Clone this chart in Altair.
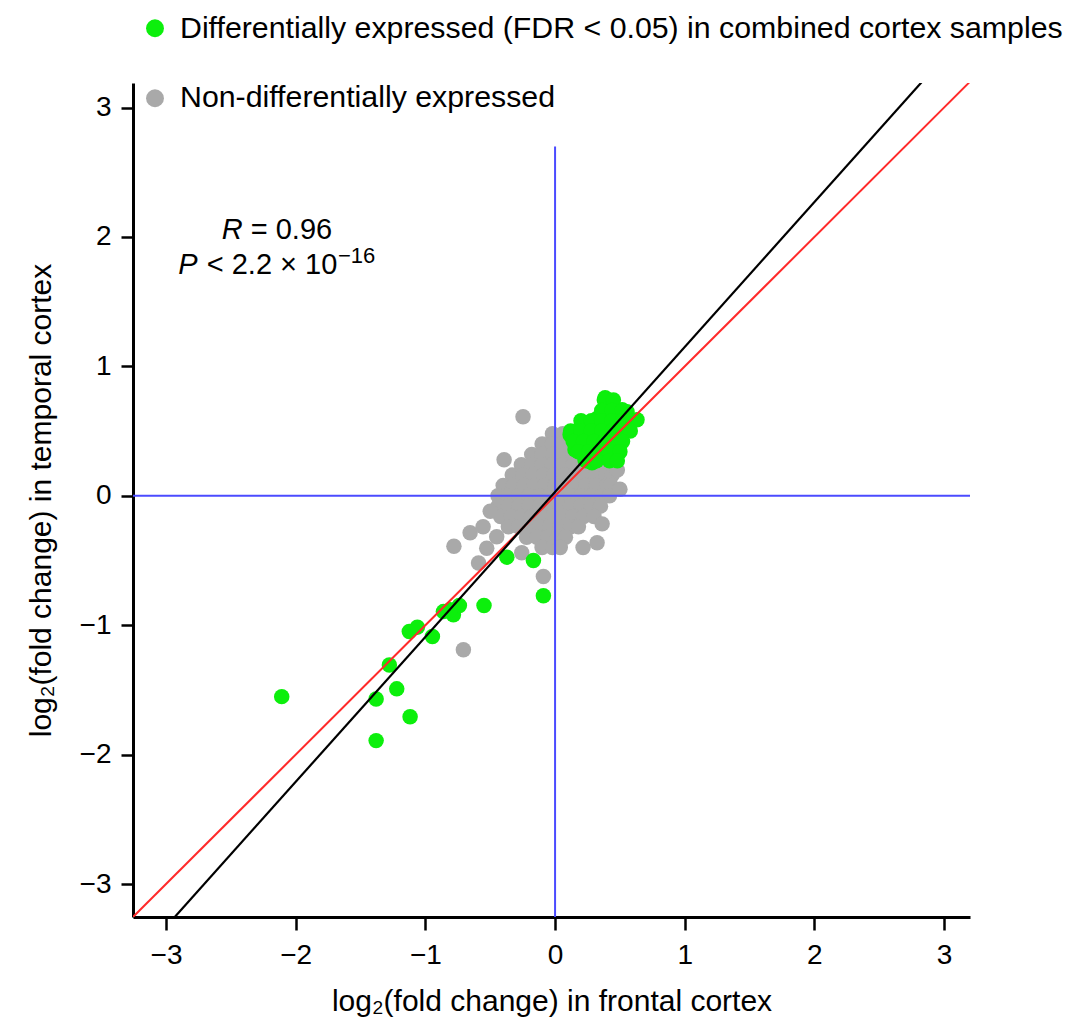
import altair as alt
import pandas as pd

FONT = "Liberation Sans"

# ---------------- data ----------------
# Non-differentially expressed genes (grey): dense core by rows + scattered points
grey_row_y = [0.48, 0.40, 0.32, 0.24, 0.16, 0.08, 0.00, -0.08, -0.16, -0.24, -0.32, -0.40]
grey_row_x = [
    [-0.02, 0.06, 0.12],
    [-0.10, -0.02, 0.06, 0.14, 0.22, 0.30, 0.38, 0.44],
    [-0.18, -0.10, -0.02, 0.06, 0.14, 0.22, 0.30, 0.38, 0.45],
    [-0.26, -0.18, -0.10, -0.02, 0.06, 0.14, 0.22, 0.30, 0.38, 0.44],
    [-0.33, -0.25, -0.17, -0.09, -0.01, 0.07, 0.15, 0.23, 0.31, 0.39, 0.44],
    [-0.40, -0.32, -0.24, -0.16, -0.08, 0.00, 0.08, 0.16, 0.24, 0.32, 0.40, 0.43],
    [-0.44, -0.36, -0.28, -0.20, -0.12, -0.04, 0.04, 0.12, 0.20, 0.28, 0.36, 0.42],
    [-0.44, -0.36, -0.28, -0.20, -0.12, -0.04, 0.04, 0.12, 0.20, 0.28, 0.35],
    [-0.42, -0.34, -0.26, -0.18, -0.10, -0.02, 0.06, 0.14, 0.22, 0.30],
    [-0.36, -0.28, -0.20, -0.12, -0.04, 0.04, 0.12, 0.18],
    [-0.22, -0.14, -0.06, 0.02, 0.08],
    [-0.10, -0.02, 0.04],
]
grey_extra_x = [-0.247, -0.393, -0.78, -0.527, -0.59, -0.257, -0.09, -0.707,
                -0.655, -0.555, -0.45, 0.216, 0.324, 0.363, 0.48, 0.50, -0.50]
grey_extra_y = [0.611, 0.278, -0.39, -0.405, -0.52, -0.44, -0.624, -1.19,
                -0.286, -0.24, -0.317, -0.40, -0.363, -0.217, 0.20, 0.05, -0.12]

# Differentially expressed genes (green): scattered points + dense upper cluster
green_x = [-2.108, -1.380, -1.221, -1.118, -1.380, -1.278, -1.124, -1.062, -0.946,
           -0.861, -0.784, -0.738, -0.810, -0.548, -0.372, -0.167, -0.090,
           0.386, 0.447, 0.517, 0.632, 0.555, 0.154, 0.216, 0.116, 0.270, 0.332,
           0.386, 0.316, 0.424, 0.486, 0.193, 0.270, 0.347, 0.231, 0.285, 0.370,
           0.447, 0.494, 0.409, 0.154, 0.500, 0.470]
green_y = [-1.552, -1.570, -1.492, -1.707, -1.892, -1.307, -1.049, -1.015, -1.088,
           -0.895, -0.920, -0.848, -0.880, -0.848, -0.474, -0.500, -0.773,
           0.758, 0.688, 0.665, 0.588, 0.650, 0.495, 0.526, 0.472, 0.549, 0.603,
           0.642, 0.510, 0.549, 0.472, 0.394, 0.433, 0.371, 0.278, 0.255, 0.317,
           0.302, 0.371, 0.433, 0.356, 0.588, 0.526]
green_row_y = [0.74, 0.66, 0.58, 0.50, 0.42, 0.34, 0.27]
green_row_x = [
    [0.38, 0.45],
    [0.36, 0.44, 0.52],
    [0.20, 0.28, 0.36, 0.44, 0.52, 0.60],
    [0.12, 0.20, 0.28, 0.36, 0.44, 0.52, 0.58],
    [0.14, 0.22, 0.30, 0.38, 0.46, 0.52],
    [0.18, 0.26, 0.34, 0.42, 0.50],
    [0.24, 0.32, 0.42, 0.48],
]

# reference lines
identity_x = [-3.4, 3.4]
identity_y = [-3.4, 3.4]
fit_x = [-3.05, 2.95]
fit_y = [-3.386, 3.334]

tick_values = [-3, -2, -1, 0, 1, 2, 3]
x_domain = [-3.255, 3.2]
y_domain = [-3.255, 3.19]

legend_labels = ["Differentially expressed (FDR < 0.05) in combined cortex samples",
                 "Non-differentially expressed"]

GREEN = "#0CEF0C"
GREY = "#A9A9A9"
BLUE = "#4B4BFF"
RED = "#FF2A2A"

# ---------------- tables ----------------
gx, gy = [], []
for yv, row in zip(grey_row_y, grey_row_x):
    for xv in row:
        gx.append(xv)
        gy.append(yv)
gx += grey_extra_x
gy += grey_extra_y
grey_df = pd.DataFrame({"x": gx, "y": gy})

ex, ey = list(green_x), list(green_y)
for yv, row in zip(green_row_y, green_row_x):
    for xv in row:
        ex.append(xv)
        ey.append(yv)
green_df = pd.DataFrame({"x": ex, "y": ey})

ident_df = pd.DataFrame({"x": identity_x, "y": identity_y})
fit_df = pd.DataFrame({"x": fit_x, "y": fit_y})
vline_df = pd.DataFrame({"x": [0], "y": [y_domain[0]], "y2": [2.70]})
hline_df = pd.DataFrame({"y": [0], "x": [x_domain[0]], "x2": [x_domain[1]]})
one = pd.DataFrame({"a": [0]})

xs = alt.Scale(domain=x_domain, nice=False, zero=False)
ys = alt.Scale(domain=y_domain, nice=False, zero=False)

x_axis = alt.Axis(values=tick_values, format="d", title="log\u2082(fold change) in frontal cortex",
                  grid=False, domainColor="black", domainWidth=3, tickColor="black",
                  tickWidth=2.5, tickSize=13, labelFontSize=28, labelFont=FONT,
                  labelColor="black", labelPadding=11, titleFont=FONT, titleFontSize=30,
                  titleFontWeight="normal", titleColor="black", titleBaseline="alphabetic",
                  titleY=93, labelFlush=False)
y_axis = alt.Axis(values=tick_values, format="d", title="log\u2082(fold change) in temporal cortex",
                  grid=False, domainColor="black", domainWidth=3, tickColor="black",
                  tickWidth=2.5, tickSize=12, labelFontSize=28, labelFont=FONT,
                  labelColor="black", labelPadding=10, titleFont=FONT, titleFontSize=30,
                  titleFontWeight="normal", titleColor="black", titleBaseline="alphabetic",
                  titleX=-83, labelFlush=False)

PT = 240
grey_layer = alt.Chart(grey_df).mark_circle(size=PT, color=GREY, opacity=1).encode(
    x=alt.X("x:Q", scale=xs, axis=x_axis),
    y=alt.Y("y:Q", scale=ys, axis=y_axis),
)
green_layer = alt.Chart(green_df).mark_circle(size=PT, color=GREEN, opacity=1).encode(
    x=alt.X("x:Q", scale=xs), y=alt.Y("y:Q", scale=ys))
vline = alt.Chart(vline_df).mark_rule(color=BLUE, strokeWidth=2).encode(
    x=alt.X("x:Q", scale=xs), y=alt.Y("y:Q", scale=ys), y2="y2:Q")
hline = alt.Chart(hline_df).mark_rule(color=BLUE, strokeWidth=2).encode(
    y=alt.Y("y:Q", scale=ys), x=alt.X("x:Q", scale=xs), x2="x2:Q")
ident_line = alt.Chart(ident_df).mark_line(color=RED, strokeWidth=2, clip=True).encode(
    x=alt.X("x:Q", scale=xs), y=alt.Y("y:Q", scale=ys))
fit_line = alt.Chart(fit_df).mark_line(color="black", strokeWidth=2.2, clip=True).encode(
    x=alt.X("x:Q", scale=xs), y=alt.Y("y:Q", scale=ys))

# legend (pixel positions relative to the plot area)
leg_dot1 = alt.Chart(one).mark_circle(size=320, color=GREEN, opacity=1).encode(
    x=alt.value(22), y=alt.value(-54.7))
leg_dot2 = alt.Chart(one).mark_circle(size=320, color=GREY, opacity=1).encode(
    x=alt.value(22), y=alt.value(15.3))
leg_txt1 = alt.Chart(one).mark_text(align="left", baseline="alphabetic", font=FONT,
                                    fontSize=30.3, color="black").encode(
    x=alt.value(47), y=alt.value(-44.7), text=alt.value(legend_labels[0]))
leg_txt2 = alt.Chart(one).mark_text(align="left", baseline="alphabetic", font=FONT,
                                    fontSize=30.3, color="black").encode(
    x=alt.value(47), y=alt.value(23.7), text=alt.value(legend_labels[1]))

# statistics annotation
def txt(s, px, py, size=29, style="normal"):
    return alt.Chart(one).mark_text(align="left", baseline="alphabetic", font=FONT,
                                    fontSize=size, fontStyle=style, color="black").encode(
        x=alt.value(px), y=alt.value(py), text=alt.value(s))

ann = [
    txt("R", 88.7, 156, style="italic"),
    txt("= 0.96", 117.7, 156),
    txt("P", 45.3, 191, style="italic"),
    txt("< 2.2 \u00d7 10", 73.7, 191),
    txt("\u221216", 205, 180, size=22),
]

chart = alt.layer(
    grey_layer, green_layer, vline, hline, ident_line, fit_line,
    leg_dot1, leg_dot2, leg_txt1, leg_txt2, *ann
).properties(
    width=837, height=834,
    autosize=alt.AutoSizeParams(type="none"),
    padding={"left": 125, "top": 75, "right": 94, "bottom": 106},
    background="white",
).configure_view(stroke=None)

chart.save("out.html", embed_options={"renderer": "svg", "actions": False})
